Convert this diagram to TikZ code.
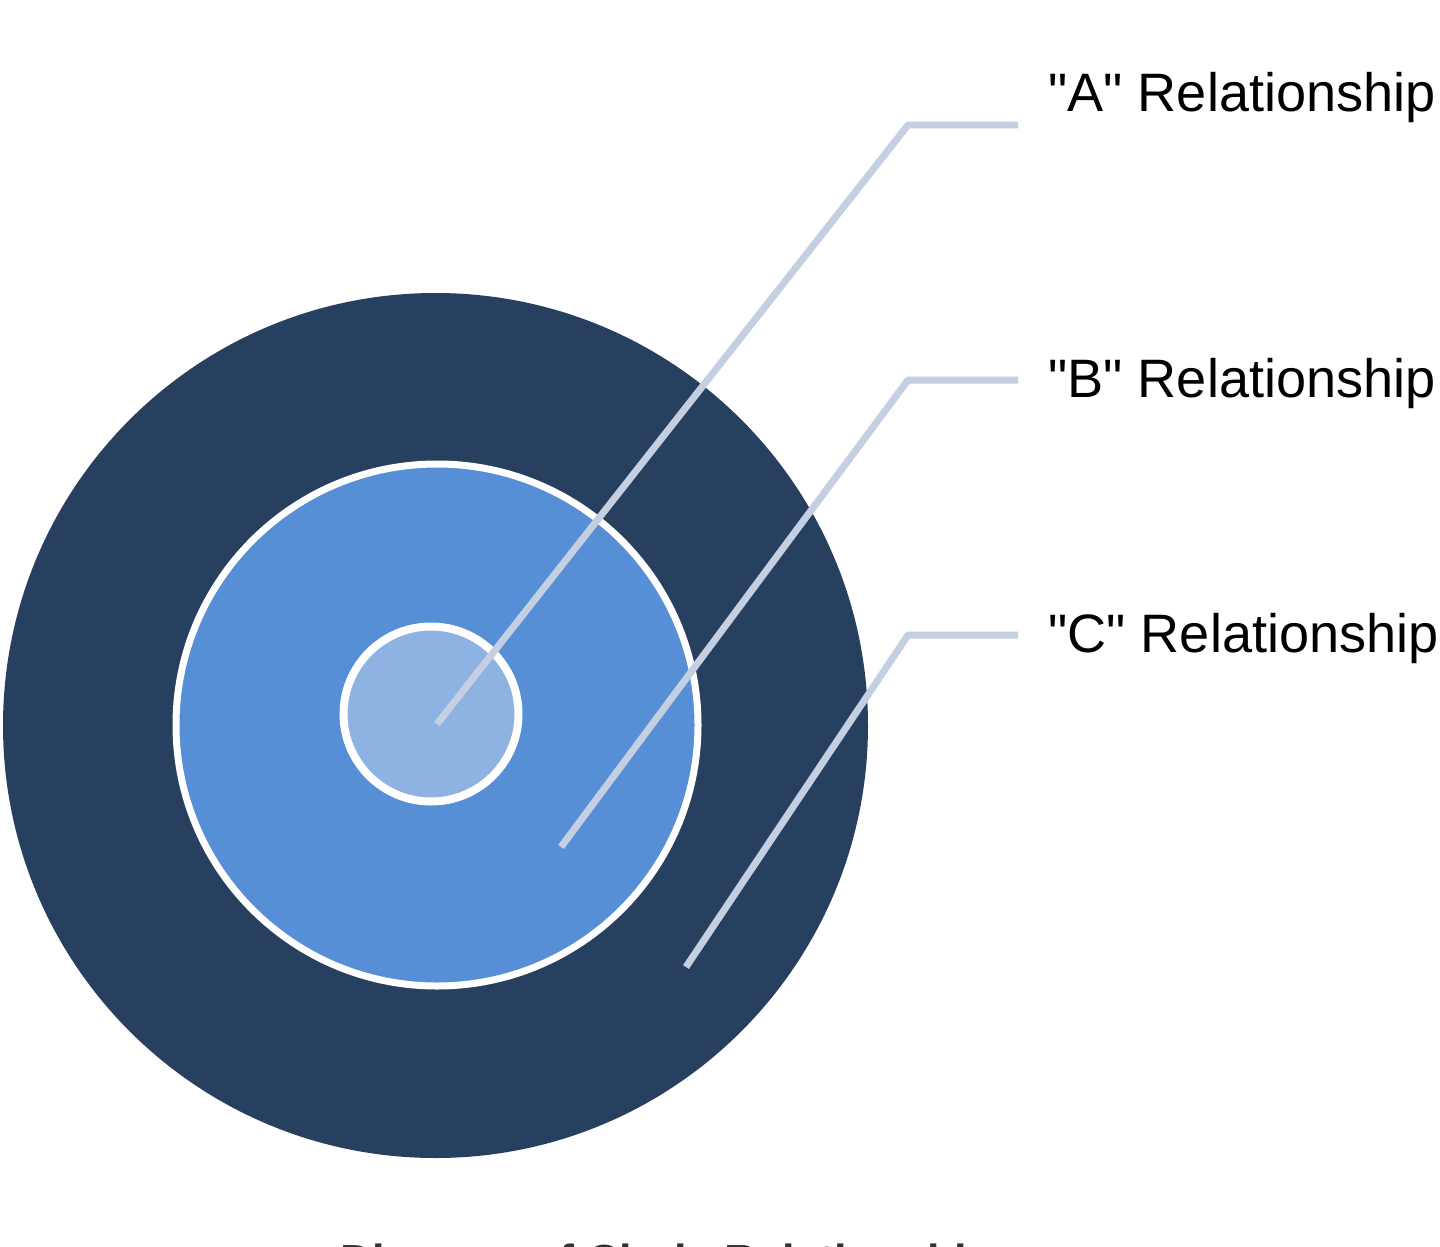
\documentclass[tikz,border=0pt]{standalone}
\usepackage{fontspec}
\setmainfont{Liberation Sans}[Ligatures=TeXOff]
\definecolor{navy}{RGB}{39,64,96}
\definecolor{midblue}{RGB}{86,143,213}
\definecolor{lightblue}{RGB}{142,179,226}
\definecolor{leader}{RGB}{196,207,226}
\begin{document}
\begin{tikzpicture}[x=0.02cm,y=-0.02cm,
  ring/.style={circle,inner sep=0pt,outer sep=0pt},
  leaderline/.style={draw=leader,line width=0.14cm,line join=bevel},
  lbl/.style={anchor=base west,inner sep=0pt,font=\fontsize{30.8pt}{36pt}\selectfont,text=black},
  ttl/.style={anchor=base,inner sep=0pt,font=\fontsize{25.6pt}{30pt}\selectfont\bfseries,text=black!80}]
\useasboundingbox (0,0) rectangle (1440,1247);
\clip (0,0) rectangle (1440,1247);
\fill[white] (0,0) rectangle (1440,1247);
% circles
\node[ring,fill=navy,minimum size=865*0.02cm] (outer) at (435.5,725.5) {};
\node[ring,fill=midblue,draw=white,line width=0.14cm,minimum size=522*0.02cm] (middle) at (437,725) {};
\node[ring,fill=lightblue,draw=white,line width=0.16cm,minimum size=175*0.02cm] (inner) at (431,714) {};
% leader coordinates
\coordinate (sA) at (437,724);
\coordinate (kA) at (908,125);
\coordinate (eA) at (1018,125);
\coordinate (sB) at (561,847);
\coordinate (kB) at (908,380);
\coordinate (eB) at (1018,380);
\coordinate (sC) at (686,967);
\coordinate (kC) at (908,635);
\coordinate (eC) at (1018,635);
\draw[leaderline] (sA) -- (kA) -- (eA);
\draw[leaderline] (sB) -- (kB) -- (eB);
\draw[leaderline] (sC) -- (kC) -- (eC);
% labels
\node[lbl] (tA) at (1048,112) {"A" Relationship};
\node[lbl] (tB) at (1048,397) {"B" Relationship};
\node[lbl] (tC) at (1048,652) {"C" Relationship};
% clipped title
\node[ttl] (title) at (680,1276) {Diagram of Circle Relationships};
\end{tikzpicture}
\end{document}
